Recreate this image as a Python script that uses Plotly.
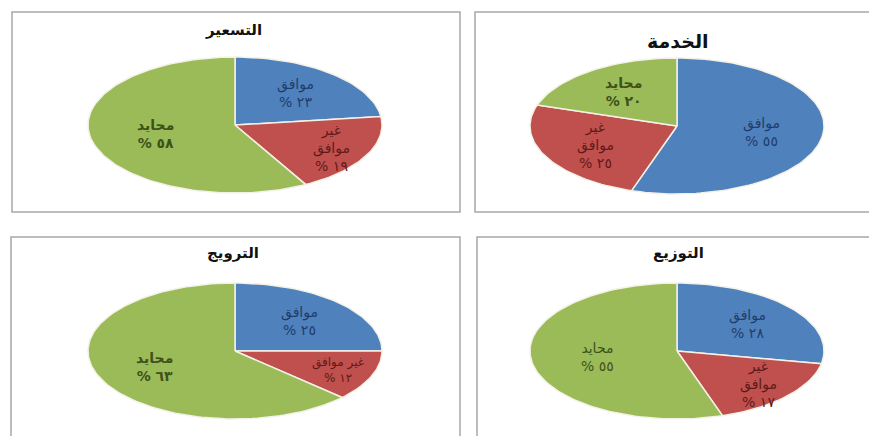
import numpy as np
import plotly.graph_objects as go

# ---- data ----
categories = ["موافق", "غير موافق", "محايد"]
titles = ["التسعير", "الخدمة", "الترويج", "التوزيع"]
pricing = [23, 19, 58]
service = [55, 25, 20]
promotion = [25, 12, 63]
distribution = [28, 17, 55]
series = [pricing, service, promotion, distribution]

# ---- styles / layout ----
W, H = 869, 436
fills = ["#4F81BD", "#C0504D", "#9BBB59"]
text_cols = ["#1F3D6B", "#5E1A18", "#3E5218"]
centers = [(235, 125), (677, 126), (235, 351), (677, 351)]
RX, RY = 147, 68
title_pos = [(233, 30), (678, 41), (233, 253), (678, 253)]
title_size = [15, 19, 15, 15]
label_frac = [[0.62, 0.74, 0.56], [0.58, 0.62, 0.62],
              [0.62, 0.75, 0.60], [0.62, 0.74, 0.55]]
bold_label = [[False, False, True], [False, False, True],
              [False, False, True], [False, False, False]]
boxes = [(12, 12, 460, 212), (475, 12, 880, 212),
         (11, 237, 460, 445), (477, 237, 880, 445)]

AR = str.maketrans("0123456789", "٠١٢٣٤٥٦٧٨٩")


def ar(n):
    return str(n).translate(AR)


def label_text(i, v, panel):
    if i == 1:
        if panel == 2:
            return "غير موافق<br>% " + ar(v)
        return "غير<br>موافق<br>% " + ar(v)
    return categories[i] + "<br>% " + ar(v)


fig = go.Figure()
annotations = []
shapes = []

for p, vals in enumerate(series):
    cx, cy = centers[p]
    total = float(sum(vals))
    start = 0.0
    for i, v in enumerate(vals):
        a0 = start
        a1 = start + v / total * 2 * np.pi
        t = np.linspace(a0, a1, max(3, int(200 * v / total)))
        xs = np.concatenate([[cx], cx + RX * np.sin(t), [cx]])
        ys = np.concatenate([[cy], cy - RY * np.cos(t), [cy]])
        fig.add_trace(go.Scatter(x=xs, y=ys, mode="lines", fill="toself",
                                 fillcolor=fills[i],
                                 line=dict(color="#F4F1E6", width=1.5),
                                 hoverinfo="skip", showlegend=False))
        mid = (a0 + a1) / 2
        f = label_frac[p][i]
        lx = cx + RX * f * np.sin(mid)
        ly = cy - RY * f * np.cos(mid)
        fs = 12 if (p == 2 and i == 1) else 14
        txt = label_text(i, v, p)
        if bold_label[p][i]:
            txt = "<b>" + txt + "</b>"
        annotations.append(dict(x=lx, y=ly, xref="x", yref="y",
                                text=txt, showarrow=False,
                                font=dict(family="DejaVu Sans", size=fs,
                                          color=text_cols[i]),
                                align="center"))
        start = a1
    tx, ty = title_pos[p]
    annotations.append(dict(x=tx, y=ty, xref="x", yref="y",
                            text="<b>" + titles[p] + "</b>", showarrow=False,
                            font=dict(family="DejaVu Sans", size=title_size[p],
                                      color="#111111")))

for (x0, y0, x1, y1) in boxes:
    shapes.append(dict(type="rect", xref="x", yref="y", x0=x0, y0=y0,
                       x1=x1, y1=y1, line=dict(color="#A8A8A8", width=1.5),
                       fillcolor="rgba(0,0,0,0)", layer="below"))

fig.update_layout(
    width=W, height=H, margin=dict(l=0, r=0, t=0, b=0),
    paper_bgcolor="white", plot_bgcolor="white",
    xaxis=dict(range=[0, W], visible=False, fixedrange=True),
    yaxis=dict(range=[H, 0], visible=False, fixedrange=True),
    annotations=annotations, shapes=shapes, showlegend=False,
)

fig.write_html("out.html")
